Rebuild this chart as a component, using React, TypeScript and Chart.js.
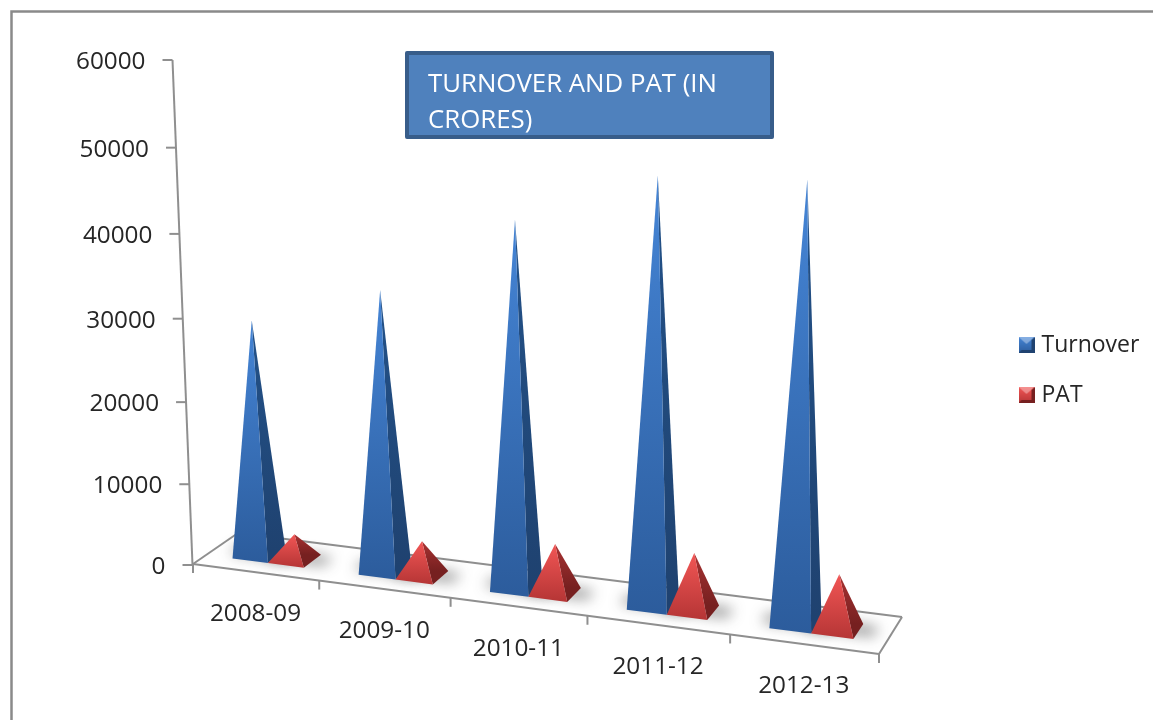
import React, { useEffect, useRef } from "react";
import { Chart, registerables } from "chart.js";

Chart.register(...registerables);

const categories = ["2008-09", "2009-10", "2010-11", "2011-12", "2012-13"];
const turnover = [28400, 33600, 43300, 49800, 50900];
const pat = [3000, 4100, 5800, 6800, 6400];
const titleLines = ["TURNOVER AND PAT (IN", "CRORES)"];
const yTickStep = 10000;
const yMax = 60000;

const FONT = "'Open Sans', sans-serif";
const AXIS = "#8f8f8f";
const TEXT = "#262626";

const skins = [
  { top: "#4585d6", bottom: "#2c5c9c", sideTop: "#235289", sideBottom: "#1f4270", base: "#2f66a8" },
  { top: "#f25655", bottom: "#b53535", sideTop: "#a83232", sideBottom: "#762020", base: "#c23b3b" },
];

// Perspective of the 3-D box: scale fractions (t along categories, w in depth, s in value) to screen.
const along = (t: number) => (0.902 * t) / (1 - 0.098 * t);
const rise = (s: number) => (0.952 * s) / (1 - 0.048 * s);
const floorPt = (t: number, w: number) => {
  const f = along(t);
  return { x: 193 + 686 * f + w * (45 - 22 * f), y: 564 + 90 * f + w * (-31 - 6 * f) };
};
const apexOf = (t: number, w: number, s: number) => {
  const p = floorPt(t, w);
  const f = along(t);
  const g = rise(s);
  return { x: p.x + (-20 + 39 * f) * g, y: p.y - 505 * g * (1 + 0.05 * f) };
};
const axisPt = (s: number) => {
  const g = rise(s);
  return { x: 192.5 - 20 * g, y: 565 - 505 * g };
};

type P = { x: number; y: number };
const poly = (ctx: CanvasRenderingContext2D, pts: P[]) => {
  ctx.beginPath();
  pts.forEach((p, i) => (i ? ctx.lineTo(p.x, p.y) : ctx.moveTo(p.x, p.y)));
  ctx.closePath();
};
const seg = (ctx: CanvasRenderingContext2D, a: P, b: P) => {
  ctx.beginPath();
  ctx.moveTo(a.x, a.y);
  ctx.lineTo(b.x, b.y);
  ctx.stroke();
};

const W0 = 0.29;
const W1 = 0.7;
const LEGEND_PAD = 27;

const boxPlugin = {
  id: "pyramid3d",
  afterLayout(chart: any) {
    const title = chart.titleBlock;
    if (title) {
      title.left = 428;
      title.right = 760;
      title.top = 67;
      title.bottom = 139;
    }
    const legend = chart.legend;
    if (legend) {
      const w = legend.width;
      const h = legend.height;
      legend.left = 1023 - LEGEND_PAD;
      legend.right = legend.left + w;
      legend.top = 345 - 11.5 - LEGEND_PAD;
      legend.bottom = legend.top + h;
    }
  },
  beforeDraw(chart: any) {
    const ctx: CanvasRenderingContext2D = chart.ctx;
    ctx.save();
    // outer frame
    ctx.strokeStyle = "#8a8a8a";
    ctx.lineWidth = 2.5;
    ctx.beginPath();
    ctx.moveTo(11.5, 720);
    ctx.lineTo(11.5, 11.5);
    ctx.lineTo(1153, 11.5);
    ctx.stroke();
    // title box
    ctx.fillStyle = "#4f81bd";
    ctx.strokeStyle = "#385d8a";
    ctx.lineWidth = 4;
    ctx.lineJoin = "round";
    ctx.fillRect(407, 53, 365, 84);
    ctx.strokeRect(407, 53, 365, 84);
    ctx.restore();
  },
  beforeDatasetsDraw(chart: any) {
    const ctx: CanvasRenderingContext2D = chart.ctx;
    const xs = chart.scales.x;
    const ys = chart.scales.y;
    const tOf = (px: number) => (px - xs.left) / xs.width;
    const sOf = (v: number) => (ys.getPixelForValue(0) - ys.getPixelForValue(v)) / ys.height;

    ctx.save();
    ctx.lineCap = "butt";
    ctx.strokeStyle = AXIS;
    ctx.lineWidth = 2;

    // floor outline
    const A = floorPt(0, 0);
    const B = floorPt(1, 0);
    const C = floorPt(1, 1);
    const D = floorPt(0, 1);
    seg(ctx, A, B);
    seg(ctx, B, C);
    seg(ctx, C, D);
    seg(ctx, D, A);

    // value axis, ticks and labels
    ctx.font = `24.3px ${FONT}`;
    ctx.fillStyle = TEXT;
    ctx.textAlign = "right";
    ctx.textBaseline = "middle";
    seg(ctx, axisPt(0), axisPt(1));
    ys.ticks.forEach((tk: any) => {
      const p = axisPt(sOf(tk.value));
      seg(ctx, { x: p.x - 10, y: p.y }, p);
      ctx.fillText(String(tk.value), p.x - 27, p.y + 2);
    });

    // category ticks and labels
    ctx.textAlign = "center";
    const n = categories.length;
    for (let i = 0; i <= n; i++) {
      const p = floorPt(i / n, 0);
      seg(ctx, p, { x: p.x, y: p.y + 9 });
    }
    xs.ticks.forEach((_tk: any, i: number) => {
      const t = tOf(xs.getPixelForTick(i));
      const p = floorPt(t, 0);
      ctx.fillText(xs.getLabelForValue(i), p.x, p.y + 42);
    });

    // soft shadows on the floor
    const metas = chart.data.datasets.map((_d: any, i: number) => chart.getDatasetMeta(i));
    ctx.save();
    ctx.filter = "blur(7px)";
    ctx.fillStyle = "rgba(40,40,40,0.55)";
    metas.forEach((meta: any) => {
      meta.data.forEach((bar: any) => {
        const t0 = tOf(bar.x - bar.width / 2);
        const t1 = tOf(bar.x + bar.width / 2);
        poly(ctx, [
          floorPt(t0 - 0.016, W0 + 0.14),
          floorPt(t1 + 0.022, W0 + 0.14),
          floorPt(t1 + 0.022, W1 - 0.04),
          floorPt(t0 - 0.016, W1 - 0.04),
        ]);
        ctx.fill();
      });
    });
    ctx.restore();

    // pyramids: turnover first, then PAT in front of it
    metas.forEach((meta: any, di: number) => {
      const skin = skins[di];
      meta.data.forEach((bar: any, i: number) => {
        const t0 = tOf(bar.x - bar.width / 2);
        const t1 = tOf(bar.x + bar.width / 2);
        const tc = (t0 + t1) / 2;
        const value = chart.data.datasets[di].data[i];
        const apex = apexOf(tc, 0.51, sOf(value));
        const fl = floorPt(t0, W0);
        const fr = floorPt(t1, W0);
        const br = floorPt(t1, W1);

        const sideG = ctx.createLinearGradient(0, apex.y, 0, br.y);
        sideG.addColorStop(0, skin.sideTop);
        sideG.addColorStop(1, skin.sideBottom);
        poly(ctx, [fr, br, apex]);
        ctx.fillStyle = sideG;
        ctx.fill();

        const frontG = ctx.createLinearGradient(0, apex.y, 0, fr.y);
        frontG.addColorStop(0, skin.top);
        frontG.addColorStop(1, skin.bottom);
        poly(ctx, [fl, fr, apex]);
        ctx.fillStyle = frontG;
        ctx.fill();
      });
    });
    ctx.restore();
    return false;
  },
};

function swatch(skin: (typeof skins)[number]) {
  const c = document.createElement("canvas");
  c.width = 16;
  c.height = 16;
  const g = c.getContext("2d")!;
  const grad = g.createLinearGradient(0, 0, 0, 16);
  grad.addColorStop(0, skin.top);
  grad.addColorStop(1, skin.bottom);
  g.fillStyle = grad;
  g.fillRect(0, 0, 16, 16);
  g.fillStyle = skin.sideBottom;
  g.beginPath();
  g.moveTo(0, 16);
  g.lineTo(16, 16);
  g.lineTo(16, 0);
  g.lineTo(13, 3);
  g.lineTo(13, 13);
  g.lineTo(3, 13);
  g.closePath();
  g.fill();
  g.fillStyle = "rgba(255,255,255,0.35)";
  g.beginPath();
  g.moveTo(0, 0);
  g.lineTo(16, 0);
  g.lineTo(8, 7);
  g.closePath();
  g.fill();
  return c;
}

export default function App() {
  const ref = useRef<HTMLCanvasElement>(null);
  useEffect(() => {
    const images = skins.map(swatch);
    const chart = new Chart(ref.current!, {
      type: "bar",
      data: {
        labels: categories,
        datasets: [
          { label: "Turnover", data: turnover, backgroundColor: skins[0].base },
          { label: "PAT", data: pat, backgroundColor: skins[1].base },
        ],
      },
      plugins: [boxPlugin],
      options: {
        responsive: false,
        animation: false,
        layout: { padding: { left: 193, right: 100, top: 0, bottom: 155 } },
        datasets: { bar: { categoryPercentage: 0.57, barPercentage: 1 } },
        scales: {
          x: {
            ticks: { display: false },
            grid: { display: false },
            border: { display: false },
          },
          y: {
            min: 0,
            max: yMax,
            ticks: { display: false, stepSize: yTickStep },
            grid: { display: false },
            border: { display: false },
          },
        },
        plugins: {
          tooltip: { enabled: false },
          title: {
            display: true,
            text: titleLines,
            align: "start",
            color: "#ffffff",
            padding: 0,
            font: { family: FONT, size: 25.8, weight: "normal", lineHeight: 36 / 25.8 },
          },
          legend: {
            display: true,
            position: "right",
            align: "start",
            labels: {
              color: TEXT,
              padding: LEGEND_PAD,
              usePointStyle: true,
              pointStyleWidth: 7,
              font: { family: FONT, size: 23 },
              generateLabels(c: any) {
                const base = Chart.defaults.plugins.legend.labels.generateLabels(c);
                return base.map((l: any, i: number) => ({ ...l, pointStyle: images[i] }));
              },
            },
          },
        },
      },
    } as any);
    return () => chart.destroy();
  }, []);
  return (
    <div style={{ position: "absolute", left: 0, top: 0, width: 1153, height: 720, background: "#fff" }}>
      <canvas ref={ref} width={1153} height={720} style={{ display: "block", filter: "blur(0.5px)" }} />
    </div>
  );
}
